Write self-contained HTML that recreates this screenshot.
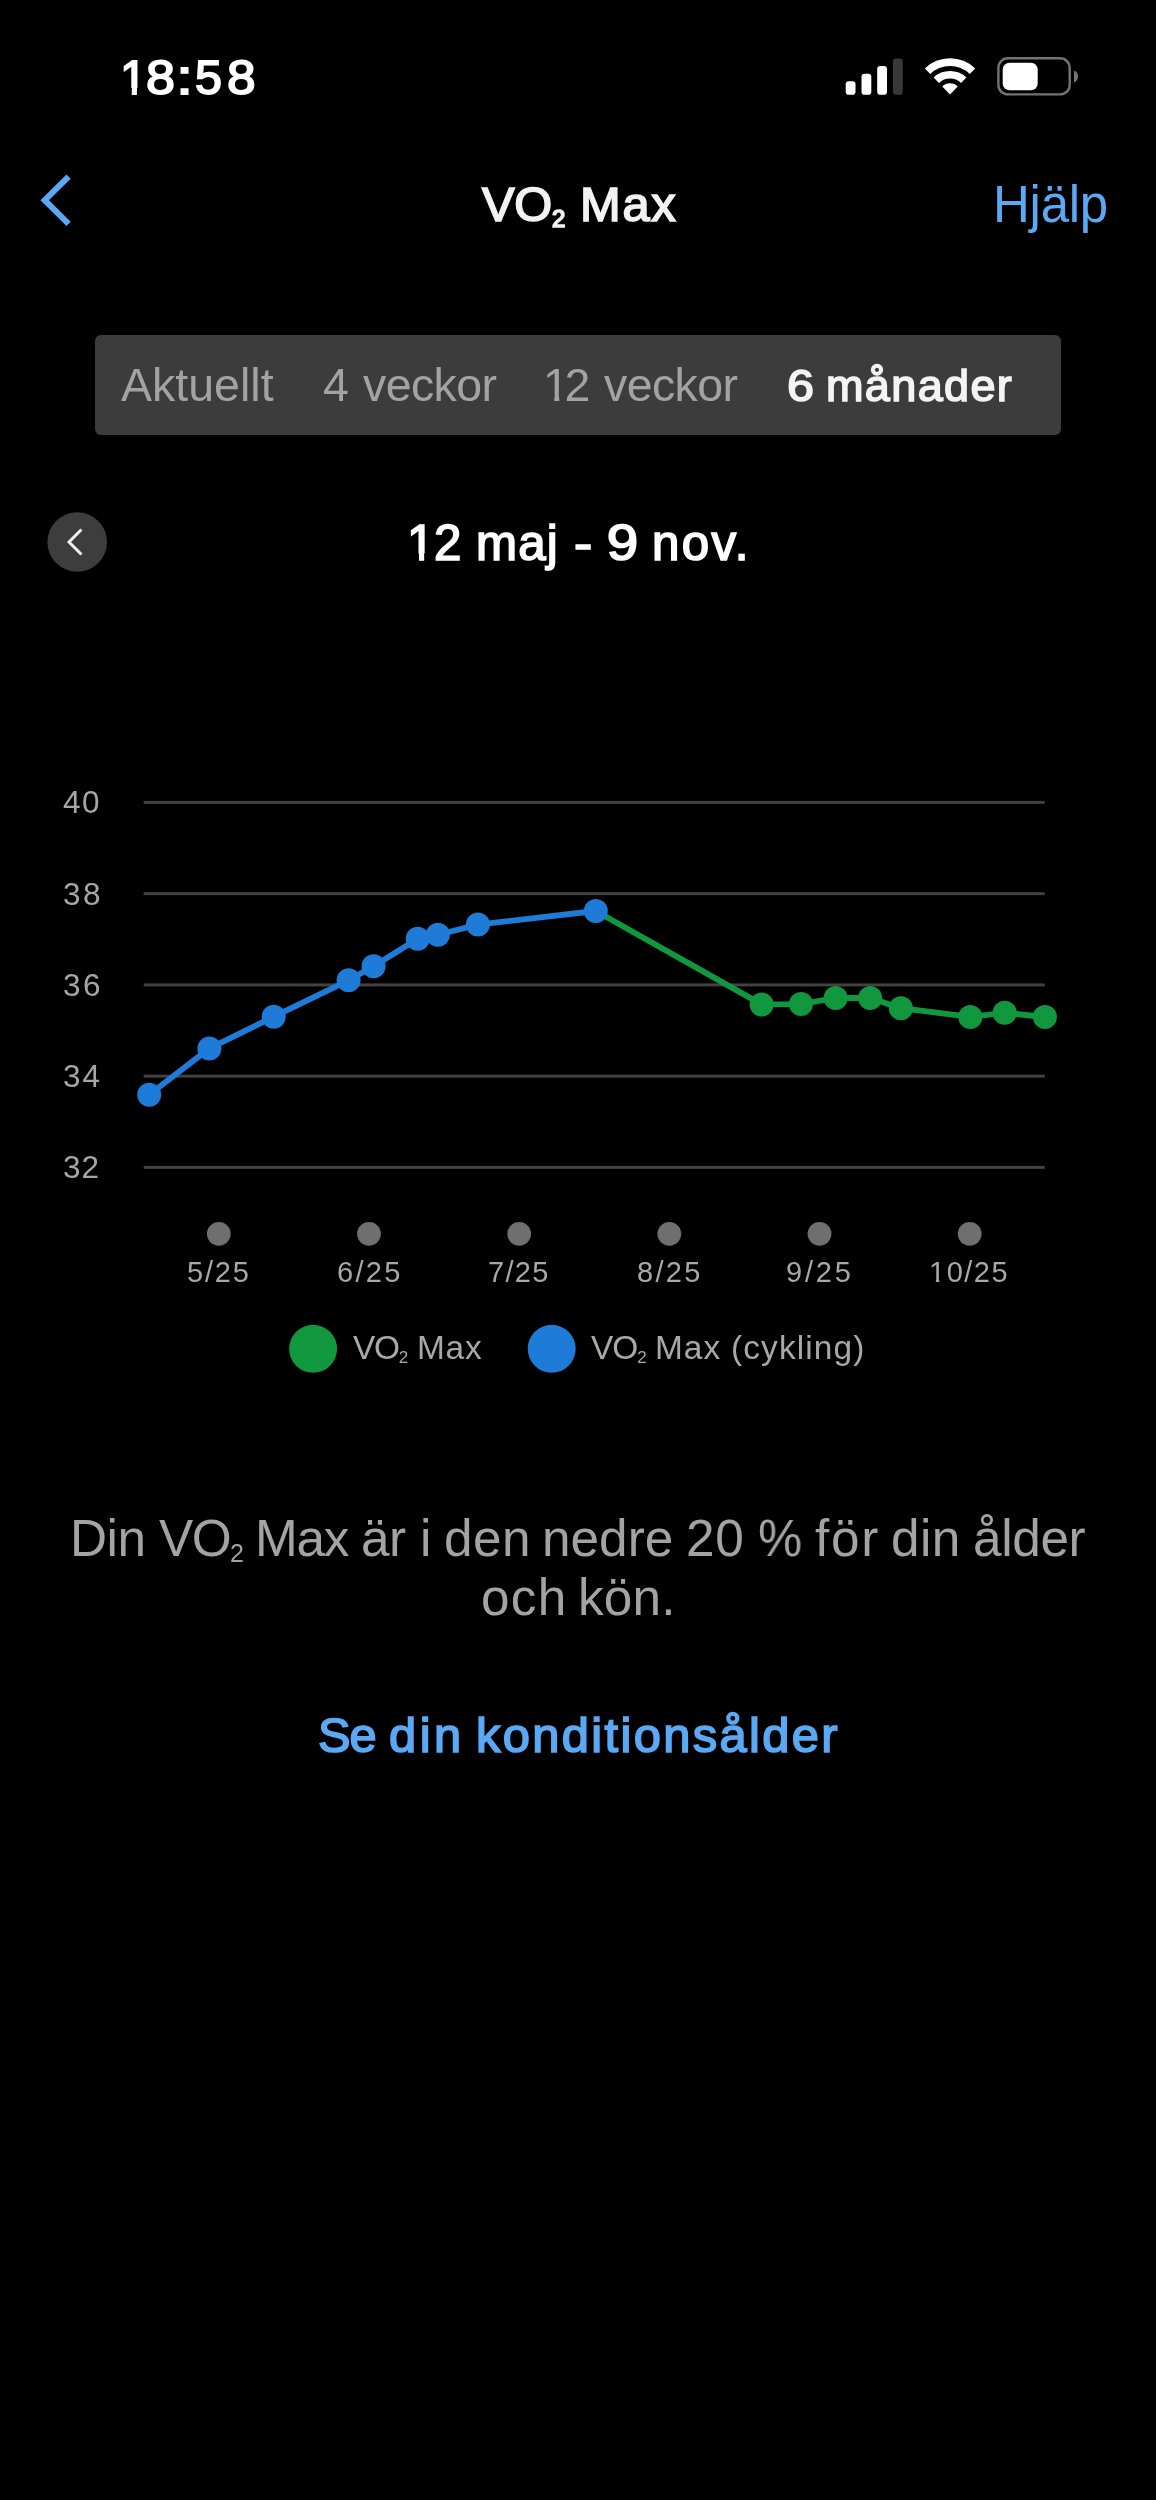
<!DOCTYPE html>
<html><head><meta charset="utf-8"><title>VO2 Max</title>
<style>
html,body{margin:0;padding:0;background:#000;}
body{width:1156px;height:2500px;position:relative;overflow:hidden;font-family:"Liberation Sans",sans-serif;}
svg{position:absolute;left:0;top:0;}
.t{position:absolute;white-space:nowrap;line-height:1;will-change:transform;}
.sub{line-height:1;}
.one{--m:0.4px;display:inline-block;line-height:1;clip-path:polygon(0 0,100% 0,100% calc(0.772em - 2.5px),calc(0.34em + var(--m)) calc(0.772em - 2.5px),calc(0.34em + var(--m)) 100%,calc(0.2515em - var(--m)) 100%,calc(0.2515em - var(--m)) calc(0.772em - 2.5px),0 calc(0.772em - 2.5px));}
</style></head><body>
<svg width="1156" height="2500" viewBox="0 0 1156 2500">
<rect x="845.7" y="81.2" width="9.8" height="13.6" rx="3.1" fill="#ffffff"/>
<rect x="861.5" y="73.7" width="9.8" height="21.1" rx="3.1" fill="#ffffff"/>
<rect x="877.2" y="65.9" width="9.8" height="28.9" rx="3.1" fill="#ffffff"/>
<rect x="893.0" y="58.4" width="9.8" height="36.4" rx="3.1" fill="#383838"/>
<g fill="#ffffff"><path d="M924.82 68.38 A36.25 36.25 0 0 1 975.18 68.38 L969.73 74.02 A28.4 28.4 0 0 0 930.27 74.02 Z"/><path d="M933.64 77.51 A23.55 23.55 0 0 1 966.36 77.51 L961.08 82.98 A15.95 15.95 0 0 0 938.92 82.98 Z"/><path d="M942.25 86.43 A11.15 11.15 0 0 1 957.75 86.43 L950 94.6 Z"/></g>
<rect x="998.4" y="58.3" width="71.3" height="36.1" rx="9.5" fill="none" stroke="#747474" stroke-width="2.4"/>
<rect x="1002.7" y="62.8" width="35" height="27.5" rx="6.8" fill="#ffffff"/>
<path d="M1074 70.5 A6.5 6.5 0 0 1 1074 82.5 Z" fill="#747474"/>
<path d="M68.6 176.6 L44.7 200.2 L68.6 223.9" fill="none" stroke="#5aa9f5" stroke-width="6" stroke-linecap="butt" stroke-linejoin="miter"/>
<rect x="95" y="335" width="966" height="100" rx="6" fill="#3c3c3c"/>
<circle cx="77.2" cy="542" r="29.8" fill="#3d3d3d"/>
<path d="M81.5 529.4 L69 542 L81.5 554.6" fill="none" stroke="#f0f0f0" stroke-width="2.9"/>
<rect x="143.7" y="800.90" width="901" height="3" fill="#424242"/>
<rect x="143.7" y="892.15" width="901" height="3" fill="#424242"/>
<rect x="143.7" y="983.40" width="901" height="3" fill="#424242"/>
<rect x="143.7" y="1074.65" width="901" height="3" fill="#424242"/>
<rect x="143.7" y="1165.90" width="901" height="3" fill="#424242"/>
<circle cx="218.80" cy="1233.8" r="11.9" fill="#6f6f6f"/>
<circle cx="368.98" cy="1233.8" r="11.9" fill="#6f6f6f"/>
<circle cx="519.16" cy="1233.8" r="11.9" fill="#6f6f6f"/>
<circle cx="669.34" cy="1233.8" r="11.9" fill="#6f6f6f"/>
<circle cx="819.52" cy="1233.8" r="11.9" fill="#6f6f6f"/>
<circle cx="969.70" cy="1233.8" r="11.9" fill="#6f6f6f"/>
<polyline points="595.8,911.0 761.6,1004.4 801.0,1004.1 835.6,998.0 870.2,998.0 900.9,1008.2 970.3,1016.9 1004.7,1012.8 1044.9,1017.0" fill="none" stroke="#11983f" stroke-width="5.8" stroke-linejoin="round"/>
<circle cx="761.6" cy="1004.4" r="12" fill="#11983f"/>
<circle cx="801.0" cy="1004.1" r="12" fill="#11983f"/>
<circle cx="835.6" cy="998.0" r="12" fill="#11983f"/>
<circle cx="870.2" cy="998.0" r="12" fill="#11983f"/>
<circle cx="900.9" cy="1008.2" r="12" fill="#11983f"/>
<circle cx="970.3" cy="1016.9" r="12" fill="#11983f"/>
<circle cx="1004.7" cy="1012.8" r="12" fill="#11983f"/>
<circle cx="1044.9" cy="1017.0" r="12" fill="#11983f"/>
<polyline points="149.2,1094.8 209.4,1048.4 273.7,1016.7 348.6,980.3 373.6,966.2 417.7,938.7 437.9,934.8 477.9,924.6 595.8,911.0" fill="none" stroke="#1f7bd8" stroke-width="5.8" stroke-linejoin="round"/>
<circle cx="149.2" cy="1094.8" r="12" fill="#1f7bd8"/>
<circle cx="209.4" cy="1048.4" r="12" fill="#1f7bd8"/>
<circle cx="273.7" cy="1016.7" r="12" fill="#1f7bd8"/>
<circle cx="348.6" cy="980.3" r="12" fill="#1f7bd8"/>
<circle cx="373.6" cy="966.2" r="12" fill="#1f7bd8"/>
<circle cx="417.7" cy="938.7" r="12" fill="#1f7bd8"/>
<circle cx="437.9" cy="934.8" r="12" fill="#1f7bd8"/>
<circle cx="477.9" cy="924.6" r="12" fill="#1f7bd8"/>
<circle cx="595.8" cy="911.0" r="12" fill="#1f7bd8"/>
<circle cx="313.1" cy="1348.8" r="24" fill="#11983f"/>
<circle cx="551.7" cy="1348.8" r="24" fill="#1f7bd8"/>
</svg>
<div class="t" id="time_0" style="left:120.00px;top:53.30px;font-size:48.55px;color:#ffffff;letter-spacing:0.000px;-webkit-text-stroke:1.80px #ffffff;--m:0.95px"><span class="one">1</span></div>
<div class="t" id="time_1" style="left:145.60px;top:53.30px;font-size:48.55px;color:#ffffff;letter-spacing:0.000px;transform:scaleX(1.0720);transform-origin:0.80px 0;-webkit-text-stroke:1.80px #ffffff;--m:0.95px">8</div>
<div class="t" id="time_2" style="left:177.20px;top:53.30px;font-size:48.55px;color:#ffffff;letter-spacing:0.000px;transform:scaleX(1.2286);transform-origin:3.00px 0;-webkit-text-stroke:1.80px #ffffff;--m:0.95px">:</div>
<div class="t" id="time_3" style="left:195.30px;top:53.30px;font-size:48.55px;color:#ffffff;letter-spacing:0.000px;-webkit-text-stroke:1.80px #ffffff;--m:0.95px">5</div>
<div class="t" id="time_4" style="left:226.60px;top:53.30px;font-size:48.55px;color:#ffffff;letter-spacing:0.000px;transform:scaleX(1.0600);transform-origin:1.10px 0;-webkit-text-stroke:1.80px #ffffff;--m:0.95px">8</div>
<div class="t" id="title_0" style="left:482.40px;top:179.80px;font-size:48.84px;color:#f2f2f2;letter-spacing:-0.250px;-webkit-text-stroke:1.70px #f2f2f2;--m:0.90px">VO<span class="sub" style="font-size:24px;vertical-align:-6px">2</span></div>
<div class="t" id="title_1" style="left:580.20px;top:179.80px;font-size:48.84px;color:#f2f2f2;letter-spacing:1.750px;-webkit-text-stroke:1.70px #f2f2f2;--m:0.90px">Max</div>
<div class="t" id="help_0" style="left:993.00px;top:178.82px;font-size:51.00px;color:#5aa9f5;letter-spacing:-0.250px">Hj&auml;lp</div>
<div class="t" id="seg1_0" style="left:121.00px;top:361.63px;font-size:46.50px;color:#a3a3a3;letter-spacing:0.010px">Aktuellt</div>
<div class="t" id="seg2_0" style="left:322.80px;top:362.13px;font-size:46.50px;color:#a3a3a3;letter-spacing:0.000px">4</div>
<div class="t" id="seg2_1" style="left:362.80px;top:362.13px;font-size:46.50px;color:#a3a3a3;letter-spacing:-0.600px">veckor</div>
<div class="t" id="seg3_0" style="left:543.40px;top:362.13px;font-size:46.50px;color:#a3a3a3;letter-spacing:-4.500px"><span class="one">1</span>2</div>
<div class="t" id="seg3_1" style="left:604.00px;top:362.13px;font-size:46.50px;color:#a3a3a3;letter-spacing:-0.600px">veckor</div>
<div class="t" id="seg4_0" style="left:787.20px;top:363.15px;font-size:45.06px;color:#f4f4f4;letter-spacing:0.000px;transform:scaleX(1.0783);transform-origin:1.50px 0;-webkit-text-stroke:1.60px #f4f4f4;--m:0.85px">6</div>
<div class="t" id="seg4_1" style="left:826.20px;top:363.15px;font-size:45.06px;color:#f4f4f4;letter-spacing:1.337px;-webkit-text-stroke:1.60px #f4f4f4;--m:0.85px">m&aring;nader</div>
<div class="t" id="date_0" style="left:407.20px;top:518.43px;font-size:49.27px;color:#ffffff;letter-spacing:0.000px;-webkit-text-stroke:1.70px #ffffff;--m:0.90px"><span class="one">1</span></div>
<div class="t" id="date_1" style="left:434.00px;top:518.43px;font-size:49.27px;color:#ffffff;letter-spacing:0.000px;-webkit-text-stroke:1.70px #ffffff;--m:0.90px">2</div>
<div class="t" id="date_2" style="left:475.60px;top:518.43px;font-size:49.27px;color:#ffffff;letter-spacing:1.200px;-webkit-text-stroke:1.70px #ffffff;--m:0.90px">maj</div>
<div class="t" id="date_3" style="left:574.00px;top:518.43px;font-size:49.27px;color:#ffffff;letter-spacing:0.000px;transform:scaleX(1.1143);transform-origin:1.00px 0;-webkit-text-stroke:1.70px #ffffff;--m:0.90px">-</div>
<div class="t" id="date_4" style="left:606.60px;top:518.43px;font-size:49.27px;color:#ffffff;letter-spacing:0.000px;transform:scaleX(1.1480);transform-origin:1.40px 0;-webkit-text-stroke:1.70px #ffffff;--m:0.90px">9</div>
<div class="t" id="date_5" style="left:652.20px;top:518.43px;font-size:49.27px;color:#ffffff;letter-spacing:2.301px;-webkit-text-stroke:1.70px #ffffff;--m:0.90px">nov.</div>
<div class="t" id="y0_0" style="left:63.00px;top:787.43px;font-size:31.50px;color:#a6a6a6;letter-spacing:1.500px">40</div>
<div class="t" id="y1_0" style="left:63.00px;top:878.68px;font-size:31.50px;color:#a6a6a6;letter-spacing:2.500px">38</div>
<div class="t" id="y2_0" style="left:63.00px;top:969.93px;font-size:31.50px;color:#a6a6a6;letter-spacing:2.500px">36</div>
<div class="t" id="y3_0" style="left:63.00px;top:1061.18px;font-size:31.50px;color:#a6a6a6;letter-spacing:2.000px">34</div>
<div class="t" id="y4_0" style="left:63.00px;top:1152.43px;font-size:31.50px;color:#a6a6a6;letter-spacing:1.000px">32</div>
<div class="t" id="x0_0" style="left:187.40px;top:1258.45px;font-size:29.00px;color:#a8a8a8;letter-spacing:1.839px">5/25</div>
<div class="t" id="x1_0" style="left:336.60px;top:1258.45px;font-size:29.00px;color:#a8a8a8;letter-spacing:2.338px">6/25</div>
<div class="t" id="x2_0" style="left:488.00px;top:1258.45px;font-size:29.00px;color:#a8a8a8;letter-spacing:1.329px">7/25</div>
<div class="t" id="x3_0" style="left:636.80px;top:1258.45px;font-size:29.00px;color:#a8a8a8;letter-spacing:2.329px">8/25</div>
<div class="t" id="x4_0" style="left:786.20px;top:1258.45px;font-size:29.00px;color:#a8a8a8;letter-spacing:2.836px">9/25</div>
<div class="t" id="x5_0" style="left:929.20px;top:1258.45px;font-size:29.00px;color:#a8a8a8;letter-spacing:1.500px"><span class="one">1</span>0/25</div>
<div class="t" id="leg1_0" style="left:353.40px;top:1331.29px;font-size:33.43px;color:#a8a8a8;letter-spacing:-1.250px">VO<span class="sub" style="font-size:17px;vertical-align:-4px">2</span></div>
<div class="t" id="leg1_1" style="left:416.80px;top:1331.29px;font-size:33.43px;color:#a8a8a8;letter-spacing:0.750px">Max</div>
<div class="t" id="leg2_0" style="left:590.80px;top:1331.29px;font-size:33.43px;color:#a8a8a8;letter-spacing:-1.000px">VO<span class="sub" style="font-size:17px;vertical-align:-4px">2</span></div>
<div class="t" id="leg2_1" style="left:654.80px;top:1331.29px;font-size:33.43px;color:#a8a8a8;letter-spacing:1.000px">Max</div>
<div class="t" id="leg2_2" style="left:731.00px;top:1331.29px;font-size:33.43px;color:#a8a8a8;letter-spacing:1.125px">(cykling)</div>
<div class="t" id="desc1_0" style="left:69.60px;top:1512.56px;font-size:51.31px;color:#a3a3a3;letter-spacing:-0.450px">Din</div>
<div class="t" id="desc1_1" style="left:158.60px;top:1512.56px;font-size:51.31px;color:#a3a3a3;letter-spacing:-1.550px">VO<span class="sub" style="font-size:25px;vertical-align:-6px">2</span></div>
<div class="t" id="desc1_2" style="left:255.20px;top:1512.56px;font-size:51.31px;color:#a3a3a3;letter-spacing:-1.200px">Max</div>
<div class="t" id="desc1_3" style="left:361.20px;top:1512.56px;font-size:51.31px;color:#a3a3a3;letter-spacing:-0.500px">&auml;r</div>
<div class="t" id="desc1_4" style="left:420.00px;top:1512.56px;font-size:51.31px;color:#a3a3a3;letter-spacing:0.000px">i</div>
<div class="t" id="desc1_5" style="left:443.60px;top:1512.56px;font-size:51.31px;color:#a3a3a3;letter-spacing:0.450px">den</div>
<div class="t" id="desc1_6" style="left:541.80px;top:1512.56px;font-size:51.31px;color:#a3a3a3;letter-spacing:0.025px">nedre</div>
<div class="t" id="desc1_7" style="left:686.40px;top:1512.56px;font-size:51.31px;color:#a3a3a3;letter-spacing:0.700px">20</div>
<div class="t" id="desc1_8" style="left:758.20px;top:1512.56px;font-size:51.31px;color:#a3a3a3;letter-spacing:0.000px;transform:scaleX(0.9667);transform-origin:2.00px 0">%</div>
<div class="t" id="desc1_9" style="left:814.80px;top:1512.56px;font-size:51.31px;color:#a3a3a3;letter-spacing:1.700px">f&ouml;r</div>
<div class="t" id="desc1_10" style="left:890.60px;top:1512.56px;font-size:51.31px;color:#a3a3a3;letter-spacing:0.350px">din</div>
<div class="t" id="desc1_11" style="left:972.60px;top:1512.56px;font-size:51.31px;color:#a3a3a3;letter-spacing:-0.350px">&aring;lder</div>
<div class="t" id="desc2_0" style="left:481.40px;top:1572.06px;font-size:51.31px;color:#a3a3a3;letter-spacing:1.250px">och</div>
<div class="t" id="desc2_1" style="left:578.40px;top:1572.06px;font-size:51.31px;color:#a3a3a3;letter-spacing:0.172px">k&ouml;n.</div>
<div class="t" id="link_0" style="left:318.20px;top:1711.10px;font-size:48.84px;color:#5aa9f5;letter-spacing:-1.000px;-webkit-text-stroke:1.70px #5aa9f5;--m:0.90px">Se</div>
<div class="t" id="link_1" style="left:389.00px;top:1711.10px;font-size:48.84px;color:#5aa9f5;letter-spacing:3.500px;-webkit-text-stroke:1.70px #5aa9f5;--m:0.90px">din</div>
<div class="t" id="link_2" style="left:475.80px;top:1711.10px;font-size:48.84px;color:#5aa9f5;letter-spacing:2.356px;-webkit-text-stroke:1.70px #5aa9f5;--m:0.90px">konditions&aring;lder</div>
</body></html>
